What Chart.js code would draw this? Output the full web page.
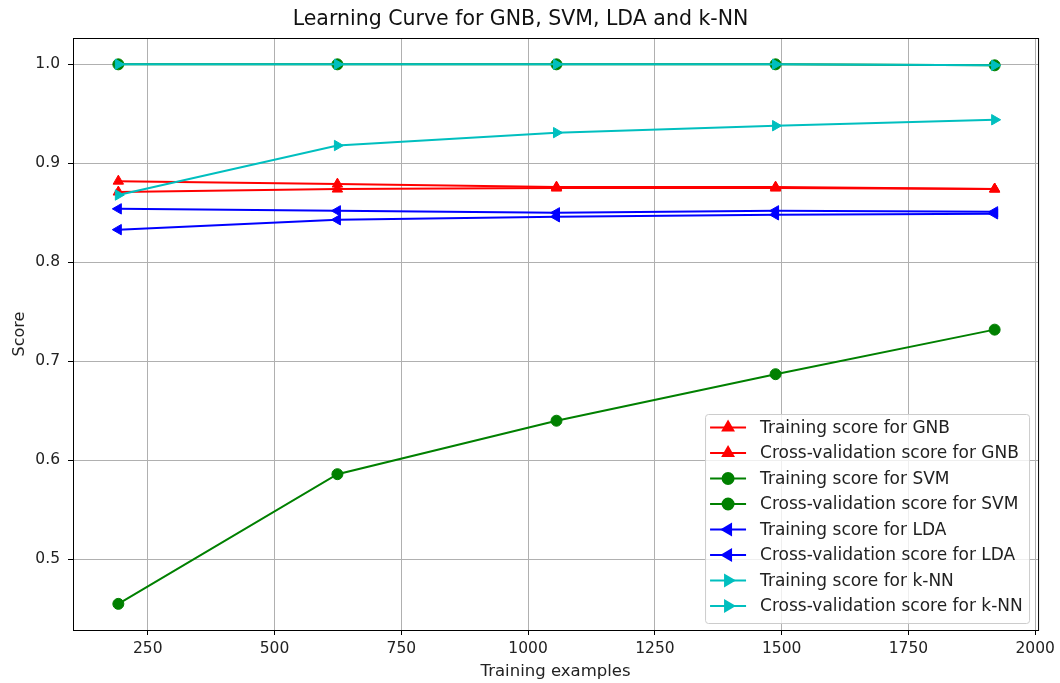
<!DOCTYPE html>
<html>
<head>
<meta charset="utf-8">
<script src="https://cdn.jsdelivr.net/npm/chart.js@4.4.1/dist/chart.umd.min.js"></script>
<style>
  html, body { margin: 0; padding: 0; background: #fff; }
  #wrap { width: 1060px; height: 683px; }
</style>
</head>
<body>
<div id="wrap"><canvas id="lc" width="1060" height="683"></canvas></div>
<script>
// training set sizes
const trainSizes = [192, 624, 1056, 1488, 1920];

// scores per model
const gnbTrain = [0.882, 0.879, 0.876, 0.876, 0.874];
const gnbCv    = [0.871, 0.874, 0.875, 0.875, 0.874];
const svmTrain = [1.0, 1.0, 1.0, 1.0, 0.999];
const svmCv    = [0.455, 0.586, 0.640, 0.687, 0.732];
const ldaTrain = [0.854, 0.852, 0.850, 0.852, 0.851];
const ldaCv    = [0.833, 0.843, 0.846, 0.848, 0.849];
const knnTrain = [1.0, 1.0, 1.0, 1.0, 0.999];
const knnCv    = [0.868, 0.918, 0.931, 0.938, 0.944];

const xTicks = [250, 500, 750, 1000, 1250, 1500, 1750, 2000];
const yTicks = [0.5, 0.6, 0.7, 0.8, 0.9, 1.0];

const FONT = "'DejaVu Sans', sans-serif";

const series = [
  { label: "Training score for GNB", data: gnbTrain, color: "#ff0000", style: "triangle", rot: 0 },
  { label: "Cross-validation score for GNB", data: gnbCv, color: "#ff0000", style: "triangle", rot: 0 },
  { label: "Training score for SVM", data: svmTrain, color: "#008000", style: "circle", rot: 0 },
  { label: "Cross-validation score for SVM", data: svmCv, color: "#008000", style: "circle", rot: 0 },
  { label: "Training score for LDA", data: ldaTrain, color: "#0000ff", style: "triangle", rot: -90 },
  { label: "Cross-validation score for LDA", data: ldaCv, color: "#0000ff", style: "triangle", rot: -90 },
  { label: "Training score for k-NN", data: knnTrain, color: "#00bfbf", style: "triangle", rot: 90 },
  { label: "Cross-validation score for k-NN", data: knnCv, color: "#00bfbf", style: "triangle", rot: 90 }
];

const datasets = series.map((s, i) => ({
  label: s.label,
  data: trainSizes.map((x, j) => ({ x: x, y: s.data[j] })),
  borderColor: s.color,
  backgroundColor: s.color,
  borderWidth: 2,
  pointStyle: s.style,
  pointRotation: s.rot,
  pointRadius: s.style === "circle" ? 5.5 : 6,
  pointBorderWidth: 1,
  tension: 0,
  order: series.length - i  // later series on top, like matplotlib
}));

// axes frame + matplotlib-like legend box
const framePlugin = {
  id: "frame",
  afterDatasetsDraw(chart) {
    const { ctx, chartArea: a } = chart;
    ctx.save();
    ctx.strokeStyle = "#000";
    ctx.lineWidth = 1;
    ctx.strokeRect(a.left + 0.5, a.top + 0.5, a.right - a.left, a.bottom - a.top);

    // legend
    const rowH = 25.5, w = 324, h = 209;
    const bx = a.right - 9 - w, by = a.bottom - 7 - h;
    ctx.fillStyle = "rgba(255,255,255,0.8)";
    ctx.strokeStyle = "#cccccc";
    ctx.beginPath();
    ctx.roundRect(bx + 0.5, by + 0.5, w, h, 3);
    ctx.fill();
    ctx.stroke();
    ctx.font = "17px " + FONT;
    ctx.textBaseline = "middle";
    series.forEach((s, i) => {
      const cy = by + 13.5 + i * rowH;
      ctx.strokeStyle = s.color;
      ctx.lineWidth = 2;
      ctx.beginPath();
      ctx.moveTo(bx + 5, cy);
      ctx.lineTo(bx + 41, cy);
      ctx.stroke();
      ctx.fillStyle = s.color;
      Chart.helpers.drawPoint(ctx, {
        pointStyle: s.style,
        rotation: s.rot,
        radius: s.style === "circle" ? 5.5 : 6,
        borderWidth: 1
      }, bx + 23, cy);
      ctx.fillStyle = "#222";
      ctx.fillText(s.label, bx + 55, cy + 1);
    });
    ctx.restore();
  }
};

new Chart(document.getElementById("lc"), {
  type: "line",
  data: { datasets: datasets },
  plugins: [framePlugin],
  options: {
    responsive: false,
    animation: false,
    layout: { padding: { left: 0, right: 19, top: 0, bottom: 0 } },
    plugins: {
      legend: { display: false },
      tooltip: { enabled: false },
      title: {
        display: true,
        text: "Learning Curve for GNB, SVM, LDA and k-NN",
        color: "#111",
        font: { family: FONT, size: 20.5, weight: "normal" },
        padding: { top: 7, bottom: 6.4 }
      }
    },
    scales: {
      x: {
        type: "linear",
        min: 102.6,
        max: 2005.6,
        afterBuildTicks: scale => { scale.ticks = xTicks.map(v => ({ value: v })); },
        afterFit: scale => { scale.height = 53; },
        grid: { color: "#b0b0b0", lineWidth: 1, tickColor: "#000", tickLength: 5 },
        border: { color: "#000", width: 1 },
        ticks: {
          color: "#222",
          font: { family: FONT, size: 15.5 },
          padding: 5,
          maxRotation: 0,
          callback: v => String(v)
        },
        title: {
          display: true,
          text: "Training examples",
          color: "#222",
          font: { family: FONT, size: 16.5 },
          padding: { top: 0, bottom: 1 }
        }
      },
      y: {
        type: "linear",
        min: 0.4286,
        max: 1.0266,
        afterBuildTicks: scale => { scale.ticks = yTicks.map(v => ({ value: v })); },
        afterFit: scale => { scale.width = 73; },
        grid: { color: "#b0b0b0", lineWidth: 1, tickColor: "#000", tickLength: 5 },
        border: { color: "#000", width: 1 },
        ticks: {
          color: "#222",
          font: { family: FONT, size: 15.5 },
          padding: 8,
          callback: v => v.toFixed(1)
        },
        title: {
          display: true,
          text: "Score",
          color: "#222",
          font: { family: FONT, size: 16 },
          padding: { top: 10, bottom: 0 }
        }
      }
    }
  }
});
</script>
</body>
</html>
